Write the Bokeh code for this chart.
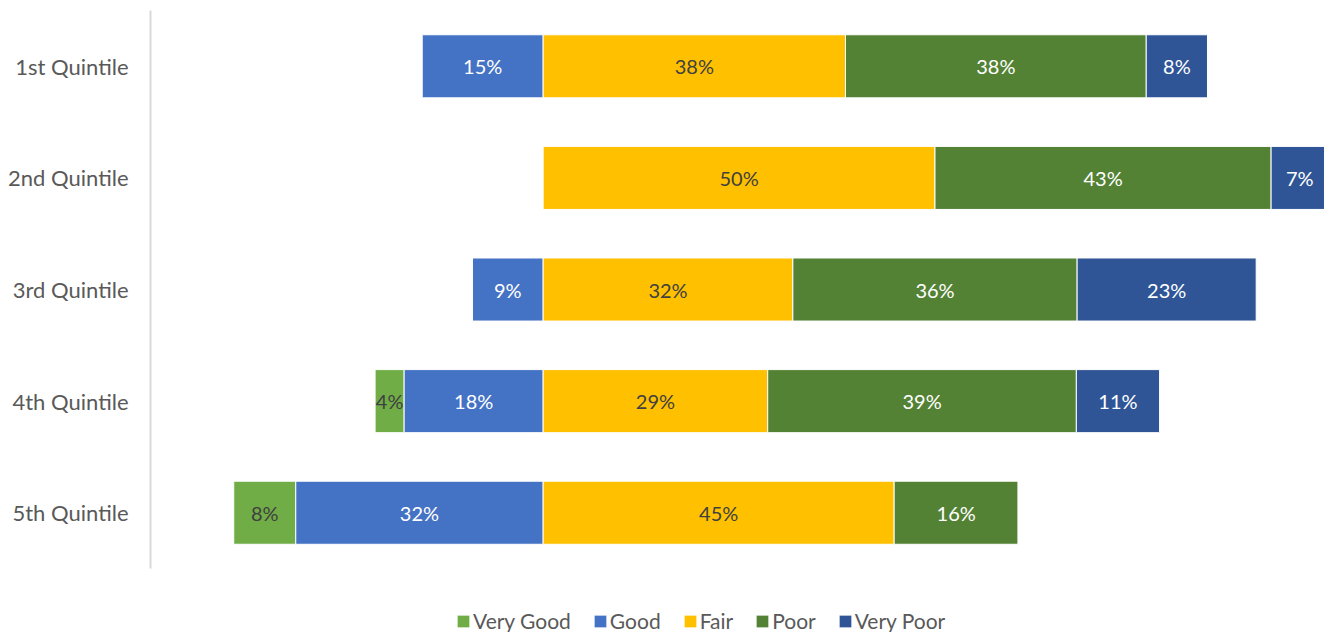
from bokeh.plotting import figure
from bokeh.models import ColumnDataSource, Legend, LegendItem, Range1d, FixedTicker
from bokeh.core.properties import value
from bokeh.embed import file_html
from bokeh.resources import INLINE

quintiles = ["1st Quintile", "2nd Quintile", "3rd Quintile", "4th Quintile", "5th Quintile"]
very_good = [0.0, 0.0, 0.0, 3.7, 7.9]
good = [15.4, 0.0, 9.0, 17.7, 31.5]
fair = [38.5, 49.9, 31.8, 28.6, 44.7]
poor = [38.3, 42.8, 36.2, 39.3, 15.8]
very_poor = [7.8, 7.3, 22.8, 10.6, 0.0]

series_names = ["Very Good", "Good", "Fair", "Poor", "Very Poor"]
colors = ["#70AD47", "#4472C4", "#FFC000", "#548235", "#2F5597"]
label_colors = ["#404040", "#FFFFFF", "#404040", "#FFFFFF", "#FFFFFF"]

FONT = "Lato"
n = len(quintiles)
row_pos = list(range(n))

p = figure(width=1324, height=632, frame_width=1174, frame_height=622,
           output_backend="svg", toolbar_location=None,
           y_range=Range1d(n - 0.5 + 0.573, -0.5),
           x_range=Range1d(-50, 99.5),
           min_border_left=150, min_border_right=0, min_border_top=10, min_border_bottom=0)

segs = []
for i in range(n):
    vg, g, f, po, vp = very_good[i], good[i], fair[i], poor[i], very_poor[i]
    segs.append([(-g - vg, -g), (-g, 0.0), (0.0, f), (f, f + po), (f + po, f + po + vp)])

vals = [very_good, good, fair, poor, very_poor]
renderers = []
for s, name in enumerate(series_names):
    lefts, rights, ys, cx, labels = [], [], [], [], []
    for i in range(n):
        l, r = segs[i][s]
        lefts.append(l); rights.append(r); ys.append(row_pos[i])
        cx.append((l + r) / 2)
        labels.append(f"{round(vals[s][i])}%" if vals[s][i] > 0 else "")
    src = ColumnDataSource(dict(y=ys, left=lefts, right=rights, cx=cx, label=labels))
    r = p.hbar(y="y", left="left", right="right", height=0.565, source=src,
               fill_color=colors[s], line_color="white", line_width=1)
    renderers.append(r)
    p.text(x="cx", y="y", text="label", source=src, text_align="center", text_baseline="middle",
           text_font=value(FONT), text_font_size="20px", text_color=label_colors[s])

p.xaxis.visible = False
p.xgrid.visible = False
p.ygrid.visible = False
p.outline_line_color = None

ya = p.yaxis[0]
ya.ticker = FixedTicker(ticks=row_pos)
ya.major_label_overrides = {i: q for i, q in zip(row_pos, quintiles)}
ya.bounds = (-0.5, n - 0.5)
ya.axis_line_color = "#D9D9D9"
ya.axis_line_width = 2
ya.major_tick_line_color = None
ya.minor_tick_line_color = None
ya.major_label_text_font = FONT
ya.major_label_text_font_size = "22px"
ya.major_label_text_color = "#595959"
ya.major_label_standoff = 16

legend = Legend(items=[LegendItem(label=nm, renderers=[r]) for nm, r in zip(series_names, renderers)],
                orientation="horizontal", location=(305, -1),
                label_text_font=FONT, label_text_font_size="21px", label_text_color="#595959",
                glyph_width=16, glyph_height=16, label_standoff=2, spacing=21,
                padding=0, margin=0, border_line_color=None, background_fill_alpha=0)
p.add_layout(legend, "center")

open("out.html", "w").write(file_html(p, INLINE))
